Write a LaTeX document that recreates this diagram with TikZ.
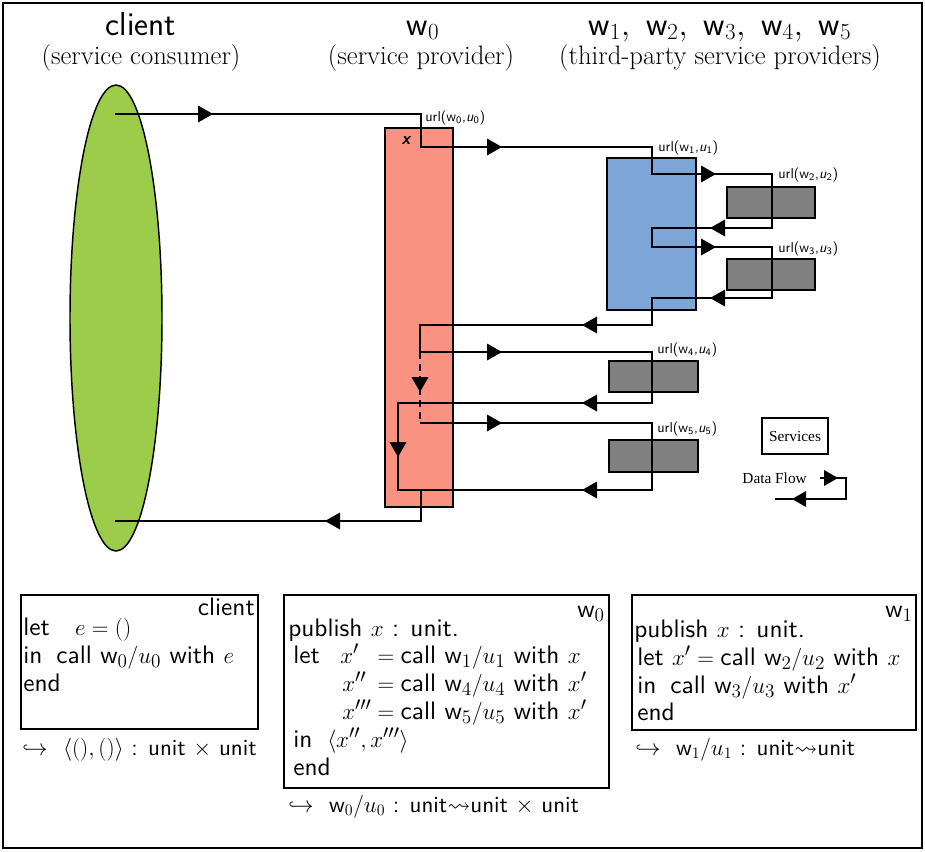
\documentclass[tikz,border=0pt]{standalone}
\usepackage{amsmath,amssymb}
\usepackage{fontspec}
\newfontfamily\legendfont{Liberation Serif}
\newfontfamily\codefont{lmsans10-regular.otf}
\definecolor{cgreen}{RGB}{155,205,75}
\definecolor{csalmon}{RGB}{250,146,130}
\definecolor{cblue}{RGB}{126,165,216}
\definecolor{cgray}{RGB}{128,128,128}
\tikzset{
  tip/.pic={\fill (0,0) -- (-15,8.5) -- (-15,-8.5) -- cycle;},
  smalltip/.pic={\fill (0,0) -- (-14,8) -- (-14,-8) -- cycle;},
  flow/.style={line width=2.2pt, line join=miter},
  shapebox/.style={draw, line width=1.5pt},
  codebox/.style={draw, line width=1.8pt},
  code/.style={font=\fontsize{19}{22}\selectfont\codefont, anchor=base west, inner sep=0pt},
  result/.style={font=\fontsize{17.3}{20}\selectfont\codefont, anchor=base west, inner sep=0pt},
  urllab/.style={font=\fontsize{10.7}{12}\selectfont\sffamily, anchor=base west, inner sep=0pt},
  head/.style={font=\fontsize{25}{29}\selectfont\sffamily, anchor=base, inner sep=0pt},
  subhead/.style={font=\fontsize{20}{23}\selectfont\rmfamily, anchor=base, inner sep=0pt},
  legend/.style={font=\fontsize{11.5}{13}\selectfont\legendfont, inner sep=0pt}
}
\begin{document}
\begin{tikzpicture}[x=0.75pt,y=-0.75pt]
\useasboundingbox (0,0) rectangle (925,851);
\draw[line width=1.5pt] (3,3) rectangle (922,848);

% headers
\node[head] (hc) at (141,35) {client};
\node[subhead] (hcs) at (141,64) {(service consumer)};
\node[head] (hw0) at (423,35) {w$_0$};
\node[subhead] (hw0s) at (421,64) {(service provider)};
\node[head] (hw) at (720,35) {$\textsf{w}_1,\ \textsf{w}_2,\ \textsf{w}_3,\ \textsf{w}_4,\ \textsf{w}_5$};
\node[subhead] (hws) at (720,64) {(third-party service providers)};

% shapes
\draw[fill=cgreen, line width=1.1pt] (116,318) ellipse [x radius=46, y radius=233];
\draw[shapebox, fill=csalmon] (385,128) rectangle (453,507);
\draw[shapebox, fill=cblue] (607,158) rectangle (696,310);
\draw[shapebox, fill=cgray] (727,187) rectangle (815,218);
\draw[shapebox, fill=cgray] (727,259) rectangle (815,290);
\draw[shapebox, fill=cgray] (609,361) rectangle (698,392);
\draw[shapebox, fill=cgray] (609,440) rectangle (698,472);
\node[font=\fontsize{13}{15}\selectfont\sffamily\itshape\bfseries, inner sep=0pt] (xl) at (406,141) {x};

% flow lines
\draw[flow] (115,114) -- (421,114) -- (421,147) -- (652,147) -- (652,174) -- (772,174)
  -- (772,228) -- (652,228) -- (652,247) -- (772,247) -- (772,298) -- (652,298)
  -- (652,325) -- (420,325) -- (420,352) -- (652,352) -- (652,403) -- (398,403)
  -- (398,490) -- (652,490) -- (652,423) -- (420,423);
\draw[flow, dash pattern=on 5pt off 4pt] (420,352) -- (420,423);
\draw[flow] (421,490) -- (421,521) -- (115,521);

\pic at (213,114) {tip};
\pic at (502,147) {tip};
\pic at (716,174) {tip};
\pic[rotate=180] at (710,228) {tip};
\pic at (716,247) {tip};
\pic[rotate=180] at (710,298) {tip};
\pic[rotate=180] at (582,325) {tip};
\pic at (502,352) {tip};
\pic[rotate=180] at (582,403) {tip};
\pic[rotate=-90] at (420,392) {tip};
\pic at (502,423) {tip};
\pic[rotate=-90] at (398,457) {tip};
\pic[rotate=180] at (582,490) {tip};
\pic[rotate=180] at (325,521) {tip};

% url labels
\node[urllab] (u0) at (425,121) {url(w\textsubscript{0},\textit{u}\textsubscript{0})};
\node[urllab] (u1) at (658,151) {url(w\textsubscript{1},\textit{u}\textsubscript{1})};
\node[urllab] (u2) at (778,178) {url(w\textsubscript{2},\textit{u}\textsubscript{2})};
\node[urllab] (u3) at (778,252) {url(w\textsubscript{3},\textit{u}\textsubscript{3})};
\node[urllab] (u4) at (657,353) {url(w\textsubscript{4},\textit{u}\textsubscript{4})};
\node[urllab] (u5) at (657,432) {url(w\textsubscript{5},\textit{u}\textsubscript{5})};

% legend
\node[legend, draw, line width=1.1pt, minimum width=66*0.75pt, minimum height=36*0.75pt] (svc) at (795,436) {Services};
\node[legend, anchor=base east] (df) at (807,483) {Data Flow};
\draw[line width=1.9pt] (820,478) -- (846,478) -- (846,499) -- (775,499);
\pic at (838,478) {smalltip};
\pic[rotate=180] at (792,499) {smalltip};

% box client
\draw[codebox] (21,595) rectangle (258,729);
\node[code, anchor=base east] (c0) at (255,615) {client};
\node[code] (c1) at (23,635) {let\quad$e=()$};
\node[code] (c2) at (23,663) {in\hspace{0.55em}call w$_0/u_0$ with $e$};
\node[code] (c3) at (23,691) {end};
\node[result] (cr) at (22,755) {$\hookrightarrow$\ \ $\langle(),()\rangle$ : unit $\times$ unit};

% box w0
\draw[codebox] (284,595) rectangle (609,788);
\node[code, anchor=base east] (w00) at (605,617) {w$_0$};
\node[code] (w01) at (288,636) {publish $x$ : unit.};
\node[code] (w02) at (293,663) {let};
\node[code] (w03a) at (340,663) {$x'$};
\node[code] (w03b) at (371,663) {${}={}$call w$_1/u_1$ with $x$};
\node[code] (w04a) at (342,691) {$x''$};
\node[code] (w04b) at (371,691) {${}={}$call w$_4/u_4$ with $x'$};
\node[code] (w05a) at (342,719) {$x'''$};
\node[code] (w05b) at (371,719) {${}={}$call w$_5/u_5$ with $x'$};
\node[code] (w06) at (293,747) {in};
\node[code] (w07) at (327,747) {$\langle x'', x'''\rangle$};
\node[code] (w08) at (293,775) {end};
\node[result] (w0r) at (288,812) {$\hookrightarrow$\ \ w$_0/u_0$ : unit$\leadsto$unit $\times$ unit};

% box w1
\draw[codebox] (632,595) rectangle (916,730);
\node[code, anchor=base east] (w10) at (913,617) {w$_1$};
\node[code] (w11) at (634,637) {publish $x$ : unit.};
\node[code] (w12) at (637,665) {let $x'={}$call w$_2/u_2$ with $x$};
\node[code] (w13) at (637,693) {in\hspace{0.55em}call w$_3/u_3$ with $x'$};
\node[code] (w14) at (637,720) {end};
\node[result] (w1r) at (635,755) {$\hookrightarrow$\ \ w$_1/u_1$ : unit$\leadsto$unit};
\end{tikzpicture}
\end{document}
